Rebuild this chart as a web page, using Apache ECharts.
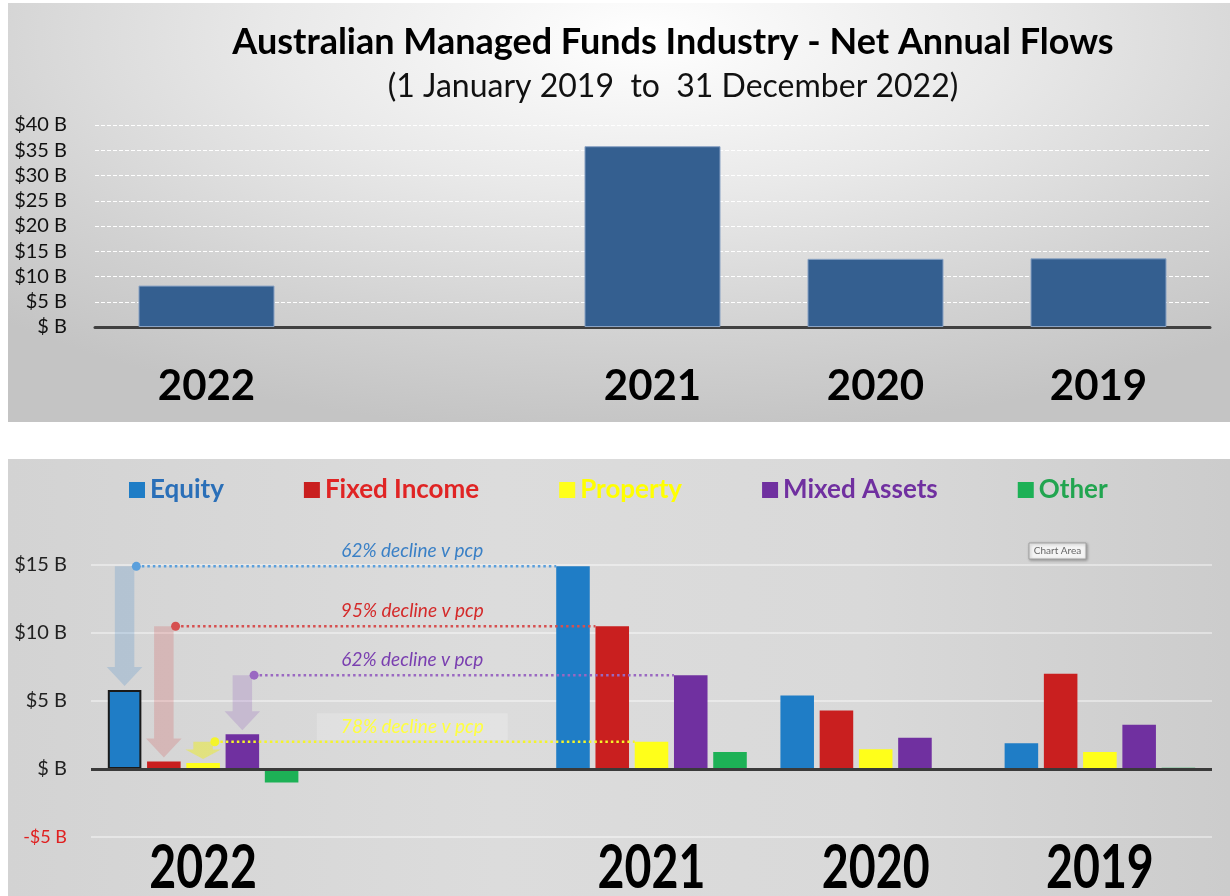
<!DOCTYPE html>
<html>
<head>
<meta charset="utf-8">
<title>Australian Managed Funds Industry - Net Annual Flows</title>
<script src="https://cdn.jsdelivr.net/npm/echarts@6/dist/echarts.min.js"></script>
<style>
  html, body { margin: 0; padding: 0; background: #ffffff; }
  body { width: 1230px; height: 896px; position: relative; overflow: hidden; }
  #topPanel {
    position: absolute; left: 8px; top: 3px; width: 1222px; height: 419px;
    background: radial-gradient(ellipse 75% 95% at 52% 8%, #ffffff 0%, #e9e9e9 40%, #d2d2d2 75%, #c4c4c4 100%);
  }
  #bottomPanel {
    position: absolute; left: 8px; top: 459px; width: 1222px; height: 437px;
    background: linear-gradient(90deg, #d3d3d3 0%, #dcdcdc 40%, #d9d9d9 70%, #cccccc 100%);
  }
</style>
</head>
<body>
<div id="topPanel"></div>
<div id="bottomPanel"></div>
<script>
// ---- data: top chart (net annual flows, $B) ----
const topCategories = ['2022', '', '2021', '2020', '2019'];
const netFlows = [8.2, '-', 35.8, 13.5, 13.6];
const topTicks = [0, 5, 10, 15, 20, 25, 30, 35, 40];

// ---- data: bottom chart (flows by asset class, $B) ----
const categories = ['2022', '', '2021', '2020', '2019'];
const seriesNames = ['Equity', 'Fixed Income', 'Property', 'Mixed Assets', 'Other'];
const equity = [5.8, '-', 14.9, 5.4, 1.9];
const fixedIncome = [0.55, '-', 10.5, 4.3, 7.0];
const property = [0.45, '-', 2.0, 1.45, 1.25];
const mixedAssets = [2.55, '-', 6.9, 2.3, 3.25];
const other = [-1.0, '-', 1.25, 0, 0.1];
const bottomTicks = [-5, 0, 5, 10, 15];

// decline call-outs (2022 v 2021) per series
const declineSeries = [0, 1, 2, 3];
const declineLabels = ['62% decline v pcp', '95% decline v pcp', '78% decline v pcp', '62% decline v pcp'];

// colours, indexed by series
const barColors = ['#1f7dc6', '#c91f1f', '#ffff1a', '#7030a0', '#1db156'];
const legendTextColors = ['#2a6fb8', '#e02424', '#ffff00', '#7030a0', '#22a550'];
const lineColors = ['#5a9fdc', '#d65050', '#f4f42a', '#9a68c2'];
const arrowColors = ['rgba(60,130,200,0.22)', 'rgba(210,60,60,0.2)', 'rgba(240,240,20,0.45)', 'rgba(130,70,180,0.2)'];
const labelColors = ['#3a80c6', '#d42a2a', '#ffff40', '#7a3fb0'];

const allSeries = [equity, fixedIncome, property, mixedAssets, other];

function moneyLabel(v) {
    if (v === 0) return '$ B';
    if (v < 0) return '{neg|-$' + Math.abs(v) + ' B}';
    return '$' + v + ' B';
}

document.addEventListener('DOMContentLoaded', function () {
    initTopChart();
    initBottomChart();
});

function initTopChart() {
    const chart = echarts.init(document.getElementById('topPanel'), null, { renderer: 'canvas' });
    const option = {
        animation: false,
        backgroundColor: 'transparent',
        graphic: [
            { type: 'text', x: 665, y: 39, style: { text: 'Australian Managed Funds Industry - Net Annual Flows', font: 'bold 36px Lato', fill: '#000', textAlign: 'center', textVerticalAlign: 'middle' } },
            { type: 'text', x: 665, y: 84, style: { text: '(1 January 2019  to  31 December 2022)', font: '32px Lato', fill: '#111', textAlign: 'center', textVerticalAlign: 'middle' } }
        ],
        grid: { left: 87, right: 20, top: 122, bottom: 95 },
        xAxis: {
            type: 'category',
            data: topCategories,
            axisLine: { lineStyle: { color: '#404040', width: 3 } },
            axisTick: { show: false },
            axisLabel: { interval: 0, margin: 38, fontFamily: 'Lato', fontWeight: 'bold', fontSize: 42, lineHeight: 42, color: '#000' }
        },
        yAxis: {
            type: 'value',
            min: topTicks[0],
            max: topTicks[topTicks.length - 1],
            interval: 5,
            axisLine: { show: false },
            axisTick: { show: false },
            axisLabel: { margin: 28, fontFamily: 'Lato', fontSize: 20, color: '#111', formatter: moneyLabel },
            splitLine: { lineStyle: { color: '#ffffff', type: [4, 2], width: 1 } }
        },
        series: [{
            type: 'bar',
            data: netFlows,
            barCategoryGap: '39%',
            itemStyle: { color: '#345f90', borderColor: '#8aa3c4', borderWidth: 1 }
        }]
    };
    chart.setOption(option);
}

// arrows, dotted lines and call-out text for the 2022 declines
function renderDecline(params, api) {
    const k = api.value(3);
    const prev = api.value(1);
    const cur = api.value(2);
    const bandW = api.size([1, 0])[0];
    const barW = bandW * 0.85 / (5 + 4 * 0.17);
    const dx = (k - 2) * barW * 1.17;

    const top = api.coord([0, prev]);
    const bottom = api.coord([0, cur]);
    const target = api.coord([2, prev]);
    const mid = api.coord([1, prev]);
    const cx = top[0] + dx;
    const tipY = bottom[1] - 4;
    const headH = Math.min(19, (tipY - top[1]) * 0.55);
    const shaftW = barW * 0.58;
    const headW = barW * 1.06;

    const arrow = {
        type: 'polygon',
        shape: {
            points: [
                [cx - shaftW / 2, top[1]], [cx + shaftW / 2, top[1]],
                [cx + shaftW / 2, tipY - headH], [cx + headW / 2, tipY - headH],
                [cx, tipY],
                [cx - headW / 2, tipY - headH], [cx - shaftW / 2, tipY - headH]
            ]
        },
        style: { fill: arrowColors[k] }
    };
    const dotX = cx + barW * 0.35;
    const line = {
        type: 'line',
        shape: { x1: dotX, y1: top[1], x2: target[0] + dx - barW / 2, y2: top[1] },
        style: { stroke: lineColors[k], lineWidth: 2.5, lineDash: [2.5, 3] }
    };
    const dot = {
        type: 'circle',
        shape: { cx: dotX, cy: top[1], r: 4.5 },
        style: { fill: lineColors[k] }
    };
    const label = {
        type: 'text',
        x: mid[0] - 15,
        y: top[1] - 15,
        style: {
            text: declineLabels[params.dataIndex],
            font: 'italic 19px Lato',
            fill: labelColors[k],
            textAlign: 'center',
            textVerticalAlign: 'middle',
            backgroundColor: k === 2 ? 'rgba(255,255,255,0.2)' : null,
            padding: k === 2 ? [4, 24] : 0
        }
    };
    return { type: 'group', children: [arrow, line, dot, label] };
}

// tall, condensed year labels under the bottom chart
function renderYear(params, api) {
    const p = api.coord([api.value(0), api.value(1)]);
    return {
        type: 'text',
        x: p[0],
        y: p[1] + 31,
        scaleX: 0.75,
        style: {
            text: categories[api.value(0)],
            font: 'bold 62px Lato',
            fill: '#000',
            textAlign: 'center',
            textVerticalAlign: 'middle'
        }
    };
}

function initBottomChart() {
    const chart = echarts.init(document.getElementById('bottomPanel'), null, { renderer: 'canvas' });

    const declineData = declineSeries.map(function (k) {
        return [0, allSeries[k][2], allSeries[k][0], k];
    });
    const yearData = [];
    categories.forEach(function (c, i) {
        if (c) yearData.push([i, bottomTicks[0]]);
    });

    const barSeries = seriesNames.map(function (name, k) {
        const data = allSeries[k].map(function (v, idx) {
            if (k === 0 && idx === 0) {
                return { value: v, itemStyle: { borderColor: '#1a1a1a', borderWidth: 2 } };
            }
            return v;
        });
        const s = {
            name: name,
            type: 'bar',
            data: data,
            barGap: '17%',
            barCategoryGap: '15%',
            itemStyle: { color: barColors[k] }
        };
        if (k === 4) {
            s.markLine = {
                silent: true,
                symbol: 'none',
                label: { show: false },
                lineStyle: { color: '#3a3a3a', width: 3, type: 'solid' },
                data: [{ yAxis: 0 }]
            };
        }
        return s;
    });

    const option = {
        animation: false,
        backgroundColor: 'transparent',
        legend: {
            left: 116,
            top: 13,
            itemGap: 80,
            itemWidth: 16,
            itemHeight: 16,
            icon: 'rect',
            selectedMode: false,
            textStyle: { fontFamily: 'Lato', fontWeight: 'bold', fontSize: 26 },
            data: seriesNames.map(function (n, k) {
                return { name: n, textStyle: { color: legendTextColors[k] } };
            })
        },
        graphic: [{
            type: 'group', x: 1021, y: 84,
            children: [
                { type: 'rect', shape: { x: 0, y: 0, width: 57, height: 16 }, style: { fill: '#f4f4f4', stroke: '#a0a0a0', lineWidth: 1, shadowBlur: 3, shadowColor: 'rgba(0,0,0,0.3)', shadowOffsetX: 1, shadowOffsetY: 1 } },
                { type: 'text', x: 28.5, y: 8, style: { text: 'Chart Area', font: '10px Lato', fill: '#666', textAlign: 'center', textVerticalAlign: 'middle' } }
            ]
        }],
        grid: { left: 83, right: 18, top: 106, bottom: 59 },
        xAxis: {
            type: 'category',
            data: categories,
            axisLine: { show: false, onZero: false },
            axisTick: { show: false },
            axisLabel: { show: false }
        },
        yAxis: {
            type: 'value',
            min: bottomTicks[0],
            max: bottomTicks[bottomTicks.length - 1],
            interval: 5,
            axisLine: { show: false },
            axisTick: { show: false },
            axisLabel: {
                margin: 24, fontFamily: 'Lato', fontSize: 20, color: '#222', formatter: moneyLabel,
                rich: { neg: { fontFamily: 'Lato', fontSize: 18, color: '#e02020' } }
            },
            splitLine: { lineStyle: { color: 'rgba(255,255,255,0.55)', width: 1.5 } }
        },
        series: barSeries.concat([{
            type: 'custom',
            renderItem: renderDecline,
            encode: { x: 0, y: [1, 2] },
            data: declineData,
            clip: false,
            silent: true,
            z: 5
        }, {
            type: 'custom',
            renderItem: renderYear,
            encode: { x: 0, y: 1 },
            data: yearData,
            clip: false,
            silent: true
        }])
    };
    chart.setOption(option);
}
</script>
</body>
</html>
